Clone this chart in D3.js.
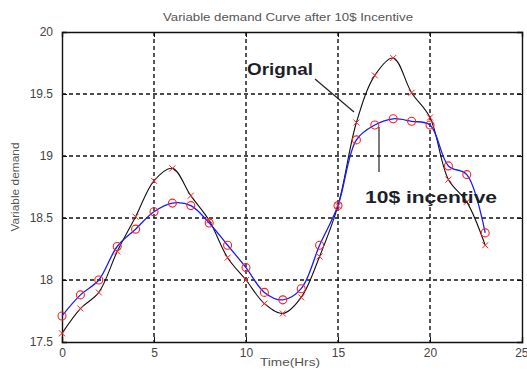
<!DOCTYPE html>
<html>
<head>
<meta charset="utf-8">
<script src="https://cdn.jsdelivr.net/npm/d3@7"></script>
<style>
  html, body { margin: 0; padding: 0; background: #fff; }
  svg { display: block; }
  text { font-family: "Liberation Sans", Arial, sans-serif; }
</style>
</head>
<body>
<svg id="chart" width="527" height="370"></svg>
<script>
// Hourly demand, original vs. after the 10$ incentive
const hours = d3.range(0, 24);
const originalDemand = [17.57, 17.77, 17.90, 18.23, 18.51, 18.80, 18.90, 18.68, 18.48, 18.18,
                        18.00, 17.81, 17.73, 17.86, 18.19, 18.60, 19.27, 19.65, 19.79, 19.51,
                        19.31, 18.81, 18.63, 18.28];
const incentiveDemand = [17.71, 17.88, 18.00, 18.27, 18.41, 18.55, 18.62, 18.60, 18.46, 18.28,
                         18.10, 17.90, 17.84, 17.93, 18.28, 18.60, 19.13, 19.25, 19.30, 19.28,
                         19.25, 18.92, 18.85, 18.38];
const xTicks = [0, 5, 10, 15, 20, 25];
const yTicks = [17.5, 18, 18.5, 19, 19.5, 20];

const svg = d3.select("#chart");
const x = d3.scaleLinear().domain([0, 25]).range([62, 522]);
const y = d3.scaleLinear().domain([17.5, 20]).range([342, 32]);

// dashed grid
const grid = svg.append("g");
grid.selectAll(".gx").data(xTicks.slice(1, -1)).join("line")
  .attr("x1", d => x(d)).attr("x2", d => x(d))
  .attr("y1", y(20)).attr("y2", y(17.5))
  .attr("stroke", "#111").attr("stroke-width", 1.4).attr("stroke-dasharray", "4,3");
grid.selectAll(".gy").data(yTicks.slice(1, -1)).join("line")
  .attr("x1", x(0)).attr("x2", x(25))
  .attr("y1", d => y(d)).attr("y2", d => y(d))
  .attr("stroke", "#111").attr("stroke-width", 1.4).attr("stroke-dasharray", "4,3");

// axes with inward ticks
const axB = svg.append("g").attr("transform", `translate(0,${y(17.5)})`)
  .call(d3.axisBottom(x).tickValues(xTicks).tickSize(-5).tickPadding(6).tickFormat(d3.format("d")));
const axL = svg.append("g").attr("transform", `translate(${x(0)},0)`)
  .call(d3.axisLeft(y).tickValues(yTicks).tickSize(-5).tickPadding(9).tickFormat(d => String(d)));
const axT = svg.append("g").attr("transform", `translate(0,${y(20)})`)
  .call(d3.axisTop(x).tickValues(xTicks).tickSize(-5).tickFormat(""));
const axR = svg.append("g").attr("transform", `translate(${x(25)},0)`)
  .call(d3.axisRight(y).tickValues(yTicks).tickSize(-5).tickFormat(""));
[axB, axL, axT, axR].forEach(a => {
  a.select(".domain").attr("stroke", "#111").attr("stroke-width", 1.4);
  a.selectAll(".tick line").attr("stroke", "#111");
  a.selectAll("text").attr("font-size", 12).attr("fill", "#444")
    .attr("font-family", "'Liberation Sans', Arial, sans-serif");
});
// last bottom label sits at the right edge of the window
axB.selectAll(".tick text").filter(d => d === 25).attr("text-anchor", "end").attr("dx", "0.5em");

// curves
const lineGen = vals => d3.line()
  .x((d, i) => x(hours[i])).y(d => y(d))
  .curve(d3.curveCatmullRom.alpha(0.5))(vals);

svg.append("path").attr("d", lineGen(originalDemand))
  .attr("fill", "none").attr("stroke", "#111").attr("stroke-width", 1.1);
svg.append("path").attr("d", lineGen(incentiveDemand))
  .attr("fill", "none").attr("stroke", "#1a1aff").attr("stroke-width", 1.3);

// markers
const s = 3;
svg.append("g").selectAll("path").data(originalDemand).join("path")
  .attr("d", (d, i) => {
    const cx = x(hours[i]), cy = y(d);
    return `M${cx - s},${cy - s}L${cx + s},${cy + s}M${cx - s},${cy + s}L${cx + s},${cy - s}`;
  })
  .attr("stroke", "#ff2020").attr("stroke-width", 1);
svg.append("g").selectAll("circle").data(incentiveDemand).join("circle")
  .attr("cx", (d, i) => x(hours[i])).attr("cy", d => y(d)).attr("r", 4)
  .attr("fill", "none").attr("stroke", "#ff2020").attr("stroke-width", 1.1);

// annotations
svg.append("line").attr("x1", 315).attr("y1", 79).attr("x2", 354).attr("y2", 112)
  .attr("stroke", "#222").attr("stroke-width", 1.2);
svg.append("text").attr("x", 247).attr("y", 75).text("Orignal")
  .attr("font-size", 17).attr("font-weight", "bold").attr("fill", "#1c1f2a")
  .attr("textLength", 66).attr("lengthAdjust", "spacingAndGlyphs");
svg.append("line").attr("x1", 379).attr("y1", 127).attr("x2", 379).attr("y2", 172)
  .attr("stroke", "#222").attr("stroke-width", 1.2);
svg.append("text").attr("x", 365).attr("y", 203).text("10$ inçentive")
  .attr("font-size", 17).attr("font-weight", "bold").attr("fill", "#1c1f2a")
  .attr("textLength", 132).attr("lengthAdjust", "spacingAndGlyphs");

// titles
svg.append("text").attr("x", 288).attr("y", 21).attr("text-anchor", "middle")
  .text("Variable demand Curve after 10$ Incentive")
  .attr("font-size", 10).attr("fill", "#555")
  .attr("textLength", 250).attr("lengthAdjust", "spacingAndGlyphs");
svg.append("text").attr("x", 290).attr("y", 366).attr("text-anchor", "middle")
  .text("Time(Hrs)").attr("font-size", 11).attr("fill", "#555")
  .attr("textLength", 60).attr("lengthAdjust", "spacingAndGlyphs");
svg.append("text").attr("transform", "translate(19,187) rotate(-90)").attr("text-anchor", "middle")
  .text("Variable demand").attr("font-size", 10.5).attr("fill", "#555")
  .attr("textLength", 89).attr("lengthAdjust", "spacingAndGlyphs");
</script>
</body>
</html>
